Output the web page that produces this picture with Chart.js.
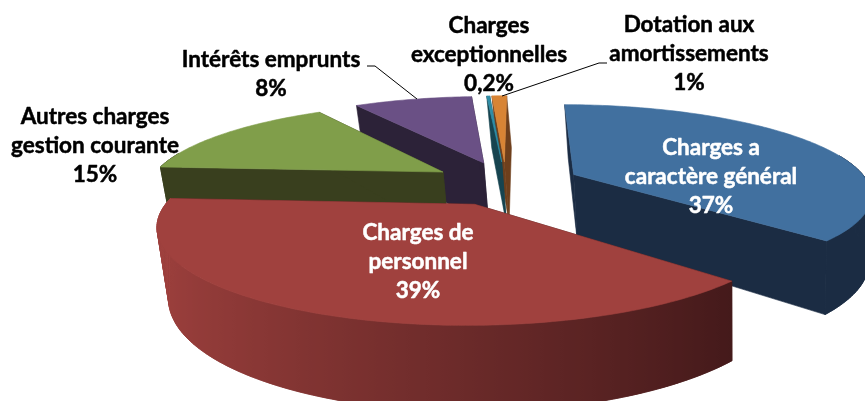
<!DOCTYPE html>
<html>
<head>
<meta charset="utf-8">
<script src="https://cdn.jsdelivr.net/npm/chart.js@4"></script>
<style>
html, body { margin: 0; padding: 0; background: #fff; overflow: hidden; }
canvas { display: block; }
</style>
</head>
<body>
<canvas id="c" width="865" height="401"></canvas>
<script>
// categories and values
const categories = ['Charges a caractère général', 'Charges de personnel', 'Autres charges gestion courante', 'Intérêts emprunts', 'Charges exceptionnelles', 'Dotation aux amortissements'];
const values = [37, 39, 15, 8, 0.2, 1];
const valueLabels = ['37%', '39%', '15%', '8%', '0,2%', '1%'];

const topColors = ['#41709f', '#a0413e', '#809e4a', '#6a5085', '#2f8ea8', '#d88435'];
const wallColors = ['#1b2c43', '#43191a', '#393f1e', '#2c2238', '#174450', '#6e3f1c'];
// colour of the outer wall at its lit (left) end, only the red one is really shaded
const wallLitColors = ['#1b2c43', '#a0413e', '#393f1e', '#2c2238', '#174450', '#6e3f1c'];

// fake 3d camera for the exploded pie
const view = { cx: 506, cy: 183, squash: 0.295, persp: 0.2, stretch: 1.47, explode: 75, depth: 65, vanishX: 740, taper: 0.02 };

// category names broken the way the picture breaks them, with centre x / first line y
const labelBlocks = [
  { x: 711, y: 148, color: '#fff', lines: ['Charges a', 'caractère général'], value: 0 },
  { x: 418, y: 233, color: '#fff', lines: ['Charges de', 'personnel'], value: 1 },
  { x: 95, y: 117, color: '#000', lines: ['Autres charges', 'gestion courante'], value: 2 },
  { x: 271, y: 60, color: '#000', lines: ['Intérêts emprunts'], value: 3 },
  { x: 489, y: 26, color: '#000', lines: ['Charges', 'exceptionnelles'], value: 4 },
  { x: 689, y: 25, color: '#000', lines: ['Dotation aux', 'amortissements'], value: 5 },
];
const leaders = [
  [[367, 66], [375, 66], [417, 99]],
  [[607, 63], [599, 63], [502, 96]],
];

const hexRgb = (h) => [1, 3, 5].map((i) => parseInt(h.slice(i, i + 2), 16));
const mix = (a, b, t) => {
  const ca = hexRgb(a), cb = hexRgb(b);
  return `rgb(${ca.map((v, i) => Math.round(v + (cb[i] - v) * t)).join(',')})`;
};

function project(x, z, h, R) {
  const p = 1 / (1 - view.persp * z / R);
  let sx = view.cx + x * p;
  const sy = view.cy + z * view.squash * p + h * p;
  if (h) sx = view.vanishX + (sx - view.vanishX) * (1 - view.taper);
  return [sx, sy];
}

function poly(ctx, pts, color) {
  ctx.beginPath();
  pts.forEach((q, i) => (i ? ctx.lineTo(q[0], q[1]) : ctx.moveTo(q[0], q[1])));
  ctx.closePath();
  ctx.fillStyle = color; ctx.strokeStyle = color; ctx.lineWidth = 0.6;
  ctx.fill(); ctx.stroke();
}

const pie3d = {
  id: 'pie3d',
  beforeDatasetsDraw(chart) {
    const ctx = chart.ctx;
    const arcs = chart.getDatasetMeta(0).data;
    const slices = arcs.map((arc, i) => {
      const a0 = arc.startAngle + Math.PI / 2, a1 = arc.endAngle + Math.PI / 2;
      const mid = (a0 + a1) / 2;
      const R = arc.outerRadius * view.stretch;
      const ox = view.explode * Math.sin(mid), oz = -view.explode * Math.cos(mid);
      const rim = [];
      const n = Math.max(2, Math.ceil((a1 - a0) * 180 / Math.PI));
      for (let k = 0; k <= n; k++) {
        const t = a0 + (a1 - a0) * k / n;
        rim.push({ t, x: ox + R * Math.sin(t), z: oz - R * Math.cos(t) });
      }
      return { i, R, ox, oz, rim };
    });
    // back to front
    slices.sort((a, b) => a.oz - b.oz);
    slices.forEach((s) => {
      const top = topColors[s.i], wall = wallColors[s.i], lit = wallLitColors[s.i];
      const up = (q) => project(q.x, q.z, 0, s.R);
      const dn = (q) => project(q.x, q.z, view.depth, s.R);
      const apex = { x: s.ox, z: s.oz };
      const first = s.rim[0], last = s.rim[s.rim.length - 1];
      poly(ctx, [up(apex), up(first), dn(first), dn(apex)], wall);
      poly(ctx, [up(apex), up(last), dn(last), dn(apex)], wall);
      // outer wall, a bit past the side because of the perspective, shaded left to right
      const front = s.rim.filter((q) => Math.cos(q.t) < 0.25);
      if (front.length > 1) {
        const xs = front.map((q) => up(q)[0]);
        const x0 = Math.min(...xs), x1 = Math.max(...xs);
        const g = ctx.createLinearGradient(x0, 0, x1 + 0.01, 0);
        front.forEach((q, k) => {
          const light = Math.max(0, Math.min(1, (0.75 - Math.sin(q.t)) / 1.75));
          g.addColorStop((xs[k] - x0) / (x1 - x0 + 0.01), mix(wall, lit, light));
        });
        // quads fill the fold at the side, the band on top hides their seams
        for (let k = 0; k < front.length - 1; k++) {
          poly(ctx, [up(front[k]), up(front[k + 1]), dn(front[k + 1]), dn(front[k])], g);
        }
        poly(ctx, [...front.map(up), ...front.slice().reverse().map(dn)], g);
      }
      poly(ctx, [up(apex), ...s.rim.map(up)], top);
    });
    return false;
  },
  // afterDatasetsDraw is skipped once the native arcs are cancelled
  afterDraw(chart) {
    const ctx = chart.ctx;
    ctx.save();
    ctx.strokeStyle = '#000'; ctx.lineWidth = 1;
    leaders.forEach((l) => {
      ctx.beginPath();
      l.forEach((q, i) => (i ? ctx.lineTo(q[0], q[1]) : ctx.moveTo(q[0], q[1])));
      ctx.stroke();
    });
    ctx.font = 'bold 22.5px Lato';
    ctx.textAlign = 'center'; ctx.textBaseline = 'middle';
    ctx.lineWidth = 0.5; ctx.lineJoin = 'round';
    labelBlocks.forEach((b) => {
      ctx.fillStyle = b.color; ctx.strokeStyle = b.color;
      [...b.lines, valueLabels[b.value]].forEach((line, j) => {
        ctx.fillText(line, b.x, b.y + j * 28.8);
        ctx.strokeText(line, b.x, b.y + j * 28.8);
      });
    });
    ctx.restore();
  },
};

new Chart(document.getElementById('c'), {
  type: 'pie',
  data: { labels: categories, datasets: [{ data: values, backgroundColor: topColors, borderWidth: 0 }] },
  options: {
    responsive: false, animation: false, rotation: 0.5,
    plugins: { legend: { display: false }, tooltip: { enabled: false } },
  },
  plugins: [pie3d],
});
</script>
</body>
</html>
